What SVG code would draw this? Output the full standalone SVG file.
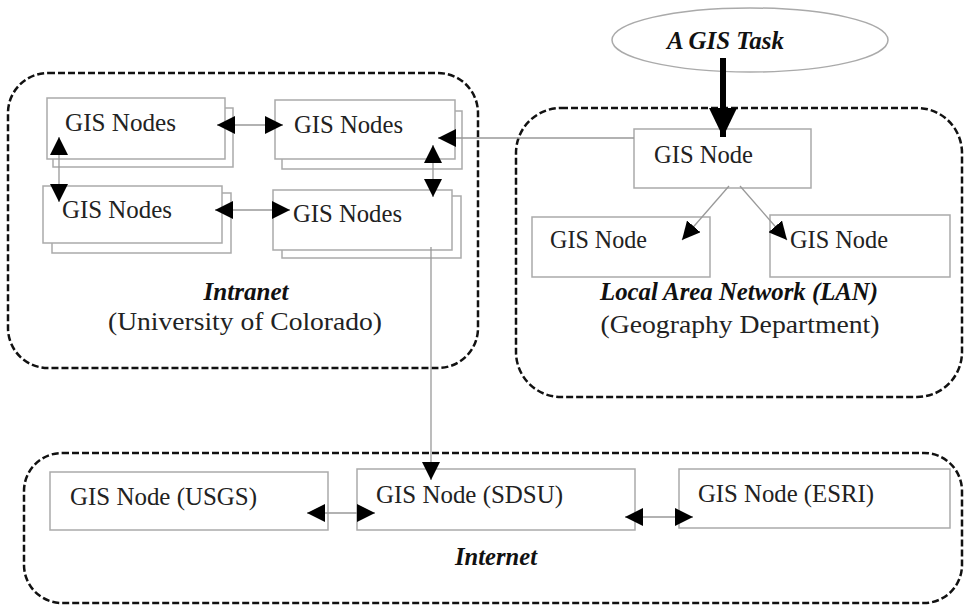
<svg xmlns="http://www.w3.org/2000/svg" width="964" height="606" viewBox="0 0 964 606">
<defs>
<style>
.zone{fill:none;stroke:#111;stroke-width:2.5;stroke-dasharray:7 3}
.node{fill:#fff;stroke:#aaa;stroke-width:1.5}
.back{fill:#fff;stroke:#aaa;stroke-width:1.5}
.t{font-family:"Liberation Serif","Times New Roman",serif;font-size:25px;fill:#222}
.bi{font-family:"Liberation Serif","Times New Roman",serif;font-size:25px;font-weight:bold;font-style:italic;fill:#111}
.c{fill:none;stroke:#999;stroke-width:1.3}
.cb{fill:none;stroke:#999;stroke-width:1.3;marker-start:url(#ah);marker-end:url(#ah)}
.ce{fill:none;stroke:#999;stroke-width:1.3;marker-end:url(#ah)}
</style>
<marker id="ah" markerUnits="userSpaceOnUse" markerWidth="19" markerHeight="18" refX="18" refY="9" orient="auto-start-reverse">
<path d="M0,0 L18,9 L0,18 z" fill="#000"/>
</marker>
<marker id="big" markerUnits="userSpaceOnUse" markerWidth="30" markerHeight="28" refX="29" refY="14" orient="auto">
<path d="M0,0 L29,14 L0,28 z" fill="#000"/>
</marker>
</defs>
<rect width="964" height="606" fill="#fff"/>

<g id="zone-intranet">
<rect class="zone" x="8" y="73" width="470" height="295" rx="40" ry="40"/>
<text class="bi" x="246" y="300" text-anchor="middle" textLength="85" lengthAdjust="spacingAndGlyphs">Intranet</text>
<text class="t" x="245" y="330" text-anchor="middle" textLength="274" lengthAdjust="spacingAndGlyphs">(University of Colorado)</text>
</g>
<g id="zone-lan">
<rect class="zone" x="516" y="108" width="446" height="289" rx="45" ry="45"/>
<text class="bi" x="739" y="300" text-anchor="middle" textLength="278" lengthAdjust="spacingAndGlyphs">Local Area Network (LAN)</text>
<text class="t" x="740" y="333" text-anchor="middle" textLength="279" lengthAdjust="spacingAndGlyphs">(Geography Department)</text>
</g>
<g id="zone-internet">
<rect class="zone" x="24" y="453" width="938" height="150" rx="38" ry="38"/>
<text class="bi" x="496" y="565" text-anchor="middle" textLength="82" lengthAdjust="spacingAndGlyphs">Internet</text>
</g>

<g id="task">
<ellipse cx="750" cy="40" rx="138" ry="32" fill="#fff" stroke="#aaa" stroke-width="1.5"/>
<text class="bi" x="667" y="49" textLength="117" lengthAdjust="spacingAndGlyphs">A GIS Task</text>
</g>

<g id="nodes-tl">
<rect class="back" x="53" y="108" width="180" height="59"/>
<rect class="node" x="47" y="98" width="178" height="61"/>
<text class="t" x="65" y="131" textLength="111" lengthAdjust="spacingAndGlyphs">GIS Nodes</text>
</g>
<g id="nodes-tr">
<rect class="back" x="282" y="111" width="180" height="58"/>
<rect class="node" x="275" y="100" width="180" height="59"/>
<text class="t" x="294" y="133" textLength="109" lengthAdjust="spacingAndGlyphs">GIS Nodes</text>
</g>
<g id="nodes-ml">
<rect class="back" x="52" y="193" width="179" height="60"/>
<rect class="node" x="43" y="186" width="179" height="57"/>
<text class="t" x="62" y="218" textLength="110" lengthAdjust="spacingAndGlyphs">GIS Nodes</text>
</g>
<g id="nodes-mr">
<rect class="back" x="282" y="196" width="179" height="62"/>
<rect class="node" x="273" y="190" width="179" height="60"/>
<text class="t" x="293" y="222" textLength="109" lengthAdjust="spacingAndGlyphs">GIS Nodes</text>
</g>

<g id="lan-node">
<rect class="node" x="634" y="129" width="177" height="59"/>
<text class="t" x="654" y="163" textLength="99" lengthAdjust="spacingAndGlyphs">GIS Node</text>
</g>
<g id="lan-node-left">
<rect class="node" x="532" y="217" width="178" height="60"/>
<text class="t" x="550" y="248" textLength="97" lengthAdjust="spacingAndGlyphs">GIS Node</text>
</g>
<g id="lan-node-right">
<rect class="node" x="770" y="215" width="180" height="62"/>
<text class="t" x="790" y="248" textLength="98" lengthAdjust="spacingAndGlyphs">GIS Node</text>
</g>

<g id="node-usgs">
<rect class="node" x="50" y="472" width="278" height="58"/>
<text class="t" x="70" y="505" textLength="187" lengthAdjust="spacingAndGlyphs">GIS Node (USGS)</text>
</g>
<g id="node-sdsu">
<rect class="node" x="357" y="469" width="278" height="61"/>
<text class="t" x="376" y="503" textLength="187" lengthAdjust="spacingAndGlyphs">GIS Node (SDSU)</text>
</g>
<g id="node-esri">
<rect class="node" x="679" y="469" width="271" height="59"/>
<text class="t" x="698" y="502" textLength="176" lengthAdjust="spacingAndGlyphs">GIS Node (ESRI)</text>
</g>

<g id="connectors">
<line class="cb" x1="217" y1="125" x2="283" y2="125"/>
<line class="cb" x1="215" y1="210" x2="290" y2="210"/>
<line class="cb" x1="59" y1="137" x2="59" y2="202"/>
<line class="cb" x1="433" y1="145" x2="433" y2="197"/>
<line class="ce" x1="634" y1="138" x2="438" y2="138"/>
<line class="ce" x1="431" y1="247" x2="431" y2="480"/>
<line class="ce" x1="729" y1="186" x2="682" y2="240"/>
<line class="ce" x1="740" y1="186" x2="787" y2="240"/>
<line class="cb" x1="307" y1="513" x2="375" y2="513"/>
<line class="cb" x1="625" y1="517" x2="693" y2="517"/>
<line x1="723" y1="58" x2="723" y2="137" stroke="#000" stroke-width="6" marker-end="url(#big)"/>
</g>
</svg>
